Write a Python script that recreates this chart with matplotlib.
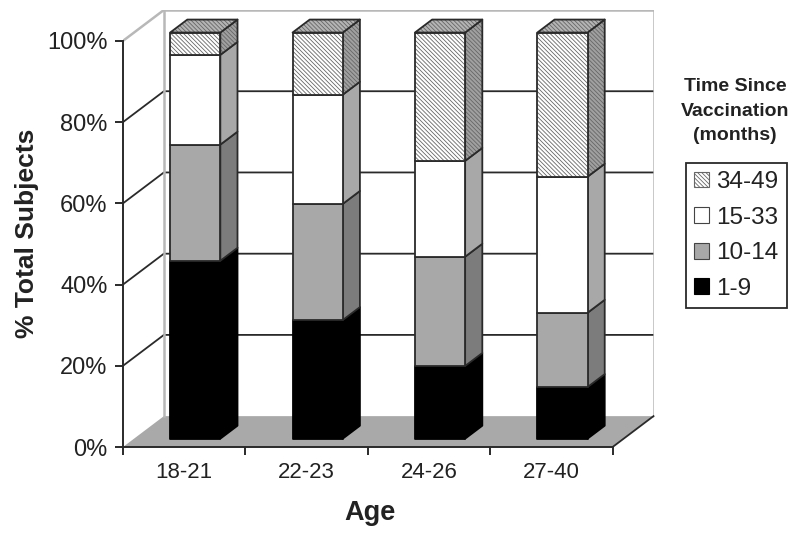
"""Stacked 3D-look bars of time since vaccination by age group."""

import matplotlib
matplotlib.use("Agg")
import matplotlib.pyplot as plt
from matplotlib.patches import Patch, Polygon

plt.rcParams["font.family"] = ["Liberation Sans", "DejaVu Sans"]
plt.rcParams["hatch.linewidth"] = 0.6

ages = ["18-21", "22-23", "24-26", "27-40"]
months = ["1-9", "10-14", "15-33", "34-49"]
share_1_9 = [43.8, 29.2, 17.9, 12.7]
share_10_14 = [28.6, 28.6, 26.9, 18.3]
share_15_33 = [22.1, 26.9, 23.6, 33.5]
share_34_49 = [5.5, 15.3, 31.6, 35.5]
yticks = [0, 20, 40, 60, 80, 100]

front_colors = ["#000000", "#a8a8a8", "#ffffff", "#ffffff"]
side_colors = ["#000000", "#7c7c7c", "#a8a8a8", "#a0a0a0"]
top_color = "#b4b4b4"
HATCH = "\\" * 8
LINE = "#2a2a2a"

# depth of the box in data units
DX = 0.334
DY = 7.6
BAR_W = 0.41
BAR_FRONT = 0.27
BAR_BACK = 0.69


def shift(x, y, depth):
    """Move a point from the front plane to a given depth."""
    return (x + depth * DX, y + depth * DY)


def face(ax, pts, color, hatch=None, z=3):
    """Draw one bar face, hatch in gray and outline in dark."""
    if hatch:
        ax.add_patch(Polygon(pts, facecolor=color, edgecolor="#666666", hatch=hatch, lw=0, zorder=z))
        ax.add_patch(Polygon(pts, fill=False, edgecolor=LINE, lw=1.3, zorder=z, joinstyle="round"))
    else:
        ax.add_patch(Polygon(pts, facecolor=color, edgecolor=LINE if color != "#000000" else "#000000",
                             lw=1.3, zorder=z, joinstyle="round"))


def draw_box(ax):
    """Back wall, floor and gridlines."""
    n = len(ages)
    ax.add_patch(Polygon([(0, 0), (n, 0), shift(n, 0, 1), shift(0, 0, 1)],
                         facecolor="#a9a9a9", edgecolor="none", zorder=1))
    for tick in yticks[1:-1]:
        ax.plot([0, DX, n + DX], [tick, tick + DY, tick + DY], color=LINE, lw=1.3, zorder=2)
    wall = "#b8b8b8"
    ax.plot([DX, DX, n + DX, n + DX], [DY, 100 + DY, 100 + DY, DY], color=wall, lw=1.8, zorder=2)
    ax.plot([0, DX], [100, 100 + DY], color=wall, lw=1.8, zorder=2)
    ax.plot([n, n + DX], [0, DY], color=LINE, lw=1.3, zorder=2, clip_on=False)


def draw_bars(ax):
    """Stack the four series, bottom to top, left to right."""
    series = [share_1_9, share_10_14, share_15_33, share_34_49]
    for i in range(len(ages)):
        x0 = i + 0.5 - BAR_W / 2
        x1 = x0 + BAR_W
        bottom = 0
        z = 3 + i
        for j, values in enumerate(series):
            top = bottom + values[i]
            hatch = HATCH if j == 3 else None
            front = [shift(x0, bottom, BAR_FRONT), shift(x1, bottom, BAR_FRONT),
                     shift(x1, top, BAR_FRONT), shift(x0, top, BAR_FRONT)]
            side = [shift(x1, bottom, BAR_FRONT), shift(x1, bottom, BAR_BACK),
                    shift(x1, top, BAR_BACK), shift(x1, top, BAR_FRONT)]
            face(ax, side, side_colors[j], hatch, z)
            face(ax, front, front_colors[j], hatch, z)
            bottom = top
        cap = [shift(x0, bottom, BAR_FRONT), shift(x1, bottom, BAR_FRONT),
               shift(x1, bottom, BAR_BACK), shift(x0, bottom, BAR_BACK)]
        face(ax, cap, top_color, HATCH, z)


fig = plt.figure(figsize=(8, 5.37), dpi=100)
ax = fig.add_axes([123 / 800, 90 / 537, 530.5 / 800, 437 / 537])
ax.set_xlim(0, len(ages) + DX)
ax.set_ylim(0, 100 + DY)

for name in ["top", "right"]:
    ax.spines[name].set_visible(False)
ax.spines["left"].set_bounds(0, 100)
ax.spines["bottom"].set_bounds(0, len(ages))
for name in ["left", "bottom"]:
    ax.spines[name].set_color(LINE)
    ax.spines[name].set_linewidth(1.4)
    ax.spines[name].set_zorder(20)

ax.set_yticks(yticks)
ax.set_yticklabels([f"{t}%" for t in yticks], fontsize=17, color="#222222")
ax.tick_params(axis="y", length=6, width=1.4, color=LINE, pad=5)
ax.set_xticks(range(len(ages) + 1))
ax.set_xticklabels([])
ax.tick_params(axis="x", which="major", length=6, width=1.4, color=LINE)
ax.set_xticks([i + 0.5 for i in range(len(ages))], minor=True)
ax.set_xticklabels(ages, minor=True, fontsize=16, color="#222222")
ax.tick_params(axis="x", which="minor", length=0, pad=11)

ax.set_xlabel("Age", fontsize=19.5, fontweight="bold", color="#222222")
ax.xaxis.set_label_coords(247 / 530.5, -53 / 437)
ax.set_ylabel("% Total Subjects", fontsize=19, fontweight="bold", color="#222222")
ax.yaxis.set_label_coords(-84 / 530.5, 214 / 437)

draw_box(ax)
draw_bars(ax)

fig.text(735 / 800, 1 - 111 / 537, "Time Since\nVaccination\n(months)", ha="center", va="center",
         fontsize=14, fontweight="bold", color="#222222", linespacing=1.6)

handles = [Patch(facecolor="white", edgecolor="#666666", hatch=HATCH, lw=0.8, label=months[3]),
           Patch(facecolor=front_colors[2], edgecolor="#444444", lw=0.8, label=months[2]),
           Patch(facecolor=front_colors[1], edgecolor="#444444", lw=0.8, label=months[1]),
           Patch(facecolor=front_colors[0], edgecolor="#000000", lw=0.8, label=months[0])]
legend = fig.legend(handles=handles, loc="upper left", bbox_to_anchor=(686 / 800, 1 - 163 / 537),
                    borderaxespad=0, frameon=True, fancybox=False, fontsize=17.5, handlelength=0.62,
                    handleheight=0.62, handletextpad=0.3, labelspacing=0.56, borderpad=0.33,
                    labelcolor="#222222")
legend.get_frame().set_edgecolor(LINE)
legend.get_frame().set_linewidth(1.3)
legend.get_frame().set_alpha(1)

fig.savefig("out.png", dpi=100)
